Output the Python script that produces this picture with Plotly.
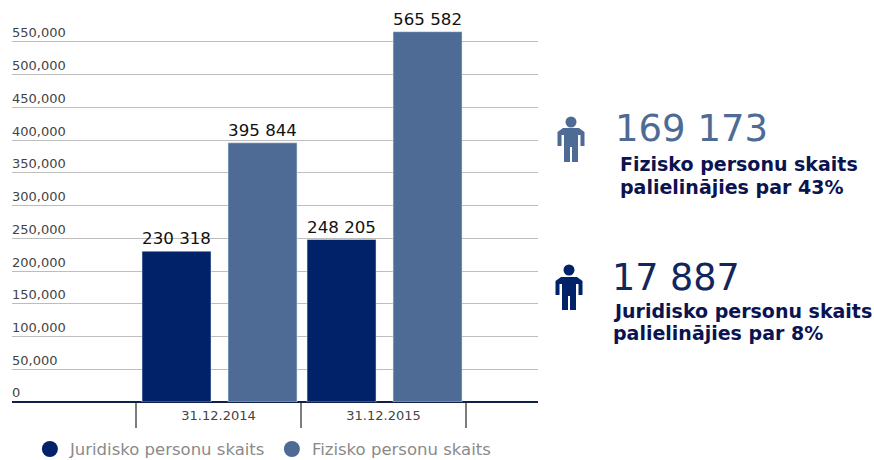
import plotly.graph_objects as go

categories = ["31.12.2014", "31.12.2015"]
juridiskas = [230318, 248205]
fiziskas = [395844, 565582]
y_ticks = list(range(0, 550001, 50000))
NAVY = "#012169"
BLUE = "#4d6b95"
W, H = 874, 460
L, R, T, B = 12, 538, 0, 402

def fmt(v):
    return f"{v:,}".replace(",", " ")

def px(x):
    return (x - L) / (R - L)

def py(y):
    return (B - y) / (B - T)

fig = go.Figure()
fig.add_bar(x=categories, y=juridiskas, width=0.418, offset=-0.4636, marker_color=NAVY,
            text=[fmt(v) for v in juridiskas], textposition="outside", cliponaxis=False,
            showlegend=False, name="Juridisko personu skaits")
fig.add_bar(x=categories, y=fiziskas, width=0.418, offset=0.0576, marker_color=BLUE,
            text=[fmt(v) for v in fiziskas], textposition="outside", cliponaxis=False,
            showlegend=False, name="Fizisko personu skaits")
for name, col in (("Juridisko personu skaits", NAVY), ("Fizisko personu skaits", BLUE)):
    fig.add_scatter(x=[None], y=[None], mode="markers", name=name,
                    marker=dict(size=17, color=col, symbol="circle"))
fig.update_traces(textfont=dict(family="DejaVu Sans", size=17.5, color="#111111"), selector=dict(type="bar"))

def person(cx, head_y, top, arm_bottom, bottom, col):
    s = []
    r = 5.5
    s.append(dict(type="circle", xref="paper", yref="paper", x0=px(cx - r), x1=px(cx + r),
                  y0=py(head_y + r), y1=py(head_y - r), fillcolor=col, line_width=0))
    pts = [(-8, top), (8, top), (13.5, top + 4), (13.5, arm_bottom), (9.5, arm_bottom), (9.5, top + 7),
           (7, top + 7), (7, bottom), (1, bottom), (1, arm_bottom + 1), (-1, arm_bottom + 1), (-1, bottom),
           (-7, bottom), (-7, top + 7), (-9.5, top + 7), (-9.5, arm_bottom), (-13.5, arm_bottom), (-13.5, top + 4)]
    path = "M " + " L ".join(f"{px(cx + a):.5f},{py(b):.5f}" for a, b in pts) + " Z"
    s.append(dict(type="path", xref="paper", yref="paper", path=path, fillcolor=col, line_width=0))
    return s

shapes = person(571, 122, 128, 146, 162, BLUE) + person(569, 270, 277, 295, 310, NAVY)

notes = [
    ("169 173", 615, 128, 37, BLUE),
    ("Fizisko personu skaits", 620, 164, 19, "#0a1450"),
    ("palielinājies par 43%", 620, 187, 19, "#0a1450"),
    ("17 887", 612, 277, 36.5, "#12265e"),
    ("Juridisko personu skaits", 613, 311, 19, "#0a1450"),
    ("palielinājies par 8%", 613, 333, 19, "#0a1450"),
]
annotations = []
for text, x, y, size, col in notes:
    bold = size < 25
    annotations.append(dict(text=f"<b>{text}</b>" if bold else text, xref="paper", yref="paper",
                            x=px(x), y=py(y), xanchor="left", yanchor="middle", showarrow=False,
                            xshift=-2, font=dict(family="DejaVu Sans", size=size, color=col)))

fig.update_layout(
    width=W, height=H, autosize=False, paper_bgcolor="white", plot_bgcolor="white",
    margin=dict(l=L, r=W - R, t=T, b=H - B, pad=0, autoexpand=False),
    barmode="overlay", shapes=shapes, annotations=annotations,
    font=dict(family="DejaVu Sans", color="#444444", size=13),
    legend=dict(orientation="h", x=0.034, xanchor="left", y=-0.074, yanchor="top",
                font=dict(family="DejaVu Sans", size=16.5, color="#8a8a8a"), itemwidth=30,
                entrywidth=197, entrywidthmode="pixels"),
    xaxis=dict(type="category", categoryorder="array", categoryarray=categories,
               range=[-1.2515, 1.936], tickson="boundaries", ticks="outside", ticklen=25,
               tickcolor="#7d7d7d", tickwidth=2, showgrid=False, zeroline=False, ticklabelstandoff=4,
               showline=False, tickfont=dict(family="DejaVu Sans", size=13, color="#444444")),
    yaxis=dict(range=[0, 614000], tickvals=y_ticks, tickformat=",", ticklabelposition="inside top",
               ticklabelstandoff=-3,
               showgrid=True, gridcolor="#bdbdbd", gridwidth=1, zeroline=True, zerolinecolor="#10204a",
               zerolinewidth=2, showline=False, ticks="",
               tickfont=dict(family="DejaVu Sans", size=13, color="#444444")),
)
fig.write_html("out.html", post_script="document.body.style.margin='0';", config={"displayModeBar": False})
